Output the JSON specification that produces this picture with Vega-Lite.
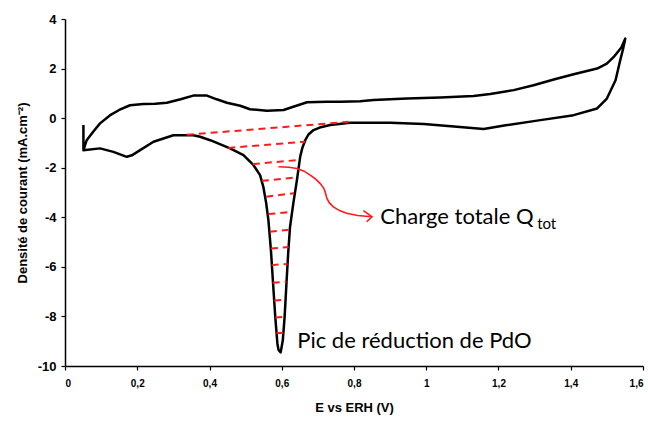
{
  "$schema": "https://vega.github.io/schema/vega-lite/v6.json",
  "width": 578,
  "height": 347,
  "autosize": {"type": "none"},
  "padding": {"left": 65, "top": 19, "right": 5, "bottom": 57},
  "background": "white",
  "config": {
    "view": {"stroke": null},
    "axis": {
      "domainColor": "black",
      "domainWidth": 1.5,
      "tickColor": "black",
      "tickWidth": 1.2,
      "grid": false,
      "labelFont": "Liberation Sans",
      "labelFontWeight": "bold",
      "labelColor": "black",
      "titleFont": "Liberation Sans",
      "titleFontWeight": "bold",
      "titleColor": "black"
    }
  },
  "datasets": {
    "cv": [
      {"i": 1, "x": 0.051, "y": -0.28},
      {"i": 2, "x": 0.051, "y": -1.3},
      {"i": 3, "x": 0.06, "y": -0.89},
      {"i": 4, "x": 0.078, "y": -0.55},
      {"i": 5, "x": 0.097, "y": -0.21},
      {"i": 6, "x": 0.125, "y": 0.12},
      {"i": 7, "x": 0.15, "y": 0.33},
      {"i": 8, "x": 0.18, "y": 0.52},
      {"i": 9, "x": 0.217, "y": 0.57},
      {"i": 10, "x": 0.25, "y": 0.58},
      {"i": 11, "x": 0.282, "y": 0.62},
      {"i": 12, "x": 0.32, "y": 0.76},
      {"i": 13, "x": 0.355, "y": 0.91},
      {"i": 14, "x": 0.393, "y": 0.91},
      {"i": 15, "x": 0.42, "y": 0.76},
      {"i": 16, "x": 0.448, "y": 0.62},
      {"i": 17, "x": 0.485, "y": 0.5},
      {"i": 18, "x": 0.512, "y": 0.36},
      {"i": 19, "x": 0.559, "y": 0.3},
      {"i": 20, "x": 0.605, "y": 0.33},
      {"i": 21, "x": 0.632, "y": 0.46},
      {"i": 22, "x": 0.67, "y": 0.64},
      {"i": 23, "x": 0.725, "y": 0.66},
      {"i": 24, "x": 0.762, "y": 0.66},
      {"i": 25, "x": 0.817, "y": 0.68},
      {"i": 26, "x": 0.854, "y": 0.73},
      {"i": 27, "x": 0.9, "y": 0.76},
      {"i": 28, "x": 0.947, "y": 0.79},
      {"i": 29, "x": 1.039, "y": 0.83},
      {"i": 30, "x": 1.131, "y": 0.89},
      {"i": 31, "x": 1.177, "y": 0.97},
      {"i": 32, "x": 1.242, "y": 1.13},
      {"i": 33, "x": 1.297, "y": 1.33},
      {"i": 34, "x": 1.353, "y": 1.56},
      {"i": 35, "x": 1.408, "y": 1.77},
      {"i": 36, "x": 1.473, "y": 2.0},
      {"i": 37, "x": 1.5, "y": 2.2},
      {"i": 38, "x": 1.519, "y": 2.47},
      {"i": 39, "x": 1.54, "y": 2.85},
      {"i": 40, "x": 1.551, "y": 3.21},
      {"i": 41, "x": 1.545, "y": 2.8},
      {"i": 42, "x": 1.537, "y": 2.34},
      {"i": 43, "x": 1.524, "y": 1.53},
      {"i": 44, "x": 1.5, "y": 0.79},
      {"i": 45, "x": 1.473, "y": 0.39},
      {"i": 46, "x": 1.408, "y": 0.12},
      {"i": 47, "x": 1.316, "y": -0.08},
      {"i": 48, "x": 1.224, "y": -0.28},
      {"i": 49, "x": 1.159, "y": -0.44},
      {"i": 50, "x": 1.085, "y": -0.35},
      {"i": 51, "x": 0.993, "y": -0.24},
      {"i": 52, "x": 0.9, "y": -0.19},
      {"i": 53, "x": 0.789, "y": -0.19},
      {"i": 54, "x": 0.734, "y": -0.28},
      {"i": 55, "x": 0.705, "y": -0.38},
      {"i": 56, "x": 0.688, "y": -0.48},
      {"i": 57, "x": 0.674, "y": -0.66},
      {"i": 58, "x": 0.665, "y": -0.89},
      {"i": 59, "x": 0.657, "y": -1.2},
      {"i": 60, "x": 0.651, "y": -1.56},
      {"i": 61, "x": 0.642, "y": -2.5},
      {"i": 62, "x": 0.632, "y": -3.44},
      {"i": 63, "x": 0.623, "y": -4.38},
      {"i": 64, "x": 0.618, "y": -5.4},
      {"i": 65, "x": 0.613, "y": -6.67},
      {"i": 66, "x": 0.608, "y": -8.01},
      {"i": 67, "x": 0.603, "y": -8.95},
      {"i": 68, "x": 0.597, "y": -9.45},
      {"i": 69, "x": 0.591, "y": -9.35},
      {"i": 70, "x": 0.588, "y": -9.1},
      {"i": 71, "x": 0.582, "y": -8.01},
      {"i": 72, "x": 0.576, "y": -6.67},
      {"i": 73, "x": 0.57, "y": -5.32},
      {"i": 74, "x": 0.563, "y": -4.11},
      {"i": 75, "x": 0.557, "y": -3.44},
      {"i": 76, "x": 0.549, "y": -2.77},
      {"i": 77, "x": 0.54, "y": -2.3},
      {"i": 78, "x": 0.522, "y": -1.9},
      {"i": 79, "x": 0.494, "y": -1.49},
      {"i": 80, "x": 0.457, "y": -1.22},
      {"i": 81, "x": 0.402, "y": -0.89},
      {"i": 82, "x": 0.374, "y": -0.75},
      {"i": 83, "x": 0.355, "y": -0.69},
      {"i": 84, "x": 0.3, "y": -0.69},
      {"i": 85, "x": 0.245, "y": -0.95},
      {"i": 86, "x": 0.208, "y": -1.29},
      {"i": 87, "x": 0.185, "y": -1.5},
      {"i": 88, "x": 0.171, "y": -1.56},
      {"i": 89, "x": 0.134, "y": -1.36},
      {"i": 90, "x": 0.097, "y": -1.22},
      {"i": 91, "x": 0.051, "y": -1.3}
    ],
    "dashes": [
      {"seg": 1, "x": 0.337, "y": -0.67}, {"seg": 1, "x": 0.785, "y": -0.15},
      {"seg": 2, "x": 0.452, "y": -1.2}, {"seg": 2, "x": 0.665, "y": -0.95},
      {"seg": 3, "x": 0.52, "y": -1.85}, {"seg": 3, "x": 0.646, "y": -1.69},
      {"seg": 4, "x": 0.545, "y": -2.53}, {"seg": 4, "x": 0.642, "y": -2.39},
      {"seg": 5, "x": 0.557, "y": -3.17}, {"seg": 5, "x": 0.634, "y": -3.03},
      {"seg": 6, "x": 0.563, "y": -3.87}, {"seg": 6, "x": 0.628, "y": -3.78},
      {"seg": 7, "x": 0.567, "y": -4.58}, {"seg": 7, "x": 0.623, "y": -4.5},
      {"seg": 8, "x": 0.57, "y": -5.26}, {"seg": 8, "x": 0.619, "y": -5.2},
      {"seg": 9, "x": 0.572, "y": -5.93}, {"seg": 9, "x": 0.616, "y": -5.88},
      {"seg": 10, "x": 0.575, "y": -6.64}, {"seg": 10, "x": 0.613, "y": -6.6},
      {"seg": 11, "x": 0.579, "y": -7.36}, {"seg": 11, "x": 0.61, "y": -7.33},
      {"seg": 12, "x": 0.582, "y": -8.04}, {"seg": 12, "x": 0.607, "y": -8.02},
      {"seg": 13, "x": 0.585, "y": -8.68}, {"seg": 13, "x": 0.604, "y": -8.66}
    ],
    "arrow": [
      {"part": "a", "i": 1, "x": 0.591, "y": -1.96},
      {"part": "a", "i": 2, "x": 0.62, "y": -1.98},
      {"part": "a", "i": 3, "x": 0.642, "y": -2.03},
      {"part": "a", "i": 4, "x": 0.662, "y": -2.14},
      {"part": "a", "i": 5, "x": 0.679, "y": -2.3},
      {"part": "a", "i": 6, "x": 0.694, "y": -2.46},
      {"part": "a", "i": 7, "x": 0.706, "y": -2.63},
      {"part": "a", "i": 8, "x": 0.716, "y": -2.82},
      {"part": "a", "i": 9, "x": 0.72, "y": -2.97},
      {"part": "a", "i": 10, "x": 0.725, "y": -3.24},
      {"part": "a", "i": 11, "x": 0.732, "y": -3.42},
      {"part": "a", "i": 12, "x": 0.743, "y": -3.58},
      {"part": "a", "i": 13, "x": 0.76, "y": -3.73},
      {"part": "a", "i": 14, "x": 0.78, "y": -3.84},
      {"part": "a", "i": 15, "x": 0.81, "y": -3.93},
      {"part": "a", "i": 16, "x": 0.848, "y": -3.98},
      {"part": "b", "i": 1, "x": 0.826, "y": -3.73},
      {"part": "b", "i": 2, "x": 0.85, "y": -3.98},
      {"part": "b", "i": 3, "x": 0.835, "y": -4.18}
    ],
    "labels": [
      {"x": 0.873, "y": -3.97, "text": "Charge totale Q", "size": 22},
      {"x": 1.307, "y": -4.26, "text": "tot", "size": 15},
      {"x": 0.643, "y": -9.0, "text": "Pic de réduction de PdO", "size": 22}
    ]
  },
  "layer": [
    {
      "data": {"name": "cv"},
      "mark": {"type": "line", "color": "black", "strokeWidth": 2.5, "strokeJoin": "round"},
      "encoding": {
        "x": {
          "field": "x", "type": "quantitative",
          "scale": {"domain": [0, 1.6], "nice": false, "zero": false},
          "axis": {
            "title": "E vs ERH (V)",
            "values": [0, 0.2, 0.4, 0.6, 0.8, 1, 1.2, 1.4, 1.6],
            "labelExpr": "replace('' + datum.value, '.', ',')",
            "labelFontSize": 10,
            "tickSize": 4,
            "labelPadding": 8,
            "titleFontSize": 13,
            "titlePadding": 13
          }
        },
        "y": {
          "field": "y", "type": "quantitative",
          "scale": {"domain": [-10, 4], "nice": false, "zero": false},
          "axis": {
            "title": "Densité de courant (mA.cm⁻²)",
            "values": [-10, -8, -6, -4, -2, 0, 2, 4],
            "labelExpr": "'' + datum.value",
            "labelFontSize": 13,
            "tickSize": 4,
            "labelPadding": 5,
            "titleFontSize": 13,
            "titlePadding": 8
          }
        },
        "order": {"field": "i", "type": "quantitative"}
      }
    },
    {
      "data": {"name": "dashes"},
      "mark": {"type": "line", "color": "#ff1a1a", "strokeWidth": 2, "strokeDash": [7, 5]},
      "encoding": {
        "x": {"field": "x", "type": "quantitative"},
        "y": {"field": "y", "type": "quantitative"},
        "detail": {"field": "seg", "type": "nominal"}
      }
    },
    {
      "data": {"name": "arrow"},
      "mark": {"type": "line", "color": "#ff1a1a", "strokeWidth": 1.6, "interpolate": "linear"},
      "encoding": {
        "x": {"field": "x", "type": "quantitative"},
        "y": {"field": "y", "type": "quantitative"},
        "detail": {"field": "part", "type": "nominal"},
        "order": {"field": "i", "type": "quantitative"}
      }
    },
    {
      "data": {"name": "labels"},
      "mark": {"type": "text", "align": "left", "baseline": "middle", "font": "Lato", "color": "black"},
      "encoding": {
        "x": {"field": "x", "type": "quantitative"},
        "y": {"field": "y", "type": "quantitative"},
        "text": {"field": "text", "type": "nominal"},
        "size": {"field": "size", "type": "quantitative", "scale": null}
      }
    }
  ]
}
